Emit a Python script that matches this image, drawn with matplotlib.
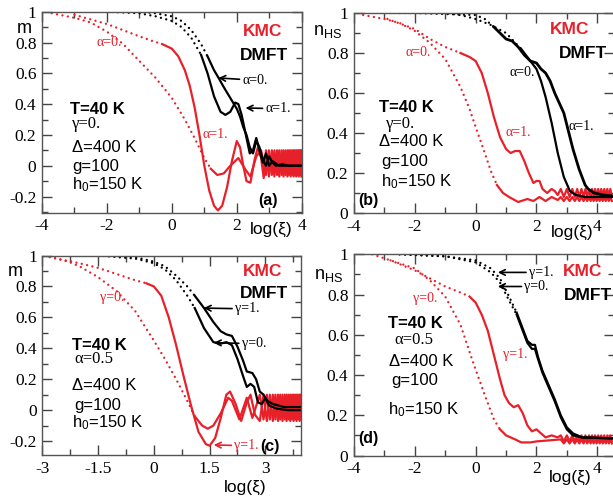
import matplotlib
matplotlib.use('Agg')
import matplotlib.pyplot as plt
from matplotlib.ticker import MultipleLocator

W, H = 613, 498
RED = '#e8202a'

plt.rcParams['font.family'] = 'Liberation Serif'
plt.rcParams['mathtext.fontset'] = 'custom'
plt.rcParams['mathtext.rm'] = 'Liberation Sans'
plt.rcParams['mathtext.it'] = 'Liberation Sans'

# ---------------- panel (a): m vs log(xi), alpha = 0 / 1 ----------------
ZIG_A_X = [2.9, 2.99, 3.08, 3.16, 3.24, 3.31, 3.38, 3.44, 3.5, 3.56, 3.61, 3.66,
           3.71, 3.75, 3.79, 3.83, 3.87, 3.91, 3.95, 3.99]
ZIG_HI_LO = [0.1, -0.07] * 10
ZIG_LO_HI = [-0.06, 0.1] * 10

a_kmc0_x = [-3.7, -3.0, -2.5, -2.0, -1.5, -1.0, -0.5, 0.0, 0.4, 0.7, 1.0, 1.2,
            1.4, 1.6, 1.8, 2.05, 2.25, 2.42, 2.6, 2.75] + ZIG_A_X
a_kmc0_y = [0.99, 0.96, 0.93, 0.87, 0.79, 0.68, 0.57, 0.44, 0.3, 0.18, 0.05, -0.02,
            -0.06, -0.05, 0.0, 0.05, -0.02, -0.07, 0.06, 0.1] + ZIG_LO_HI
a_kmc1_x = [-3.0, -2.5, -2.0, -1.5, -1.0, -0.6, -0.3, 0.0, 0.2, 0.4, 0.55, 0.7, 0.85,
            1.0, 1.15, 1.3, 1.42, 1.55, 1.7, 1.85, 2.0, 2.1, 2.2, 2.3, 2.42, 2.55,
            2.65, 2.75, 2.83] + ZIG_A_X
a_kmc1_y = [0.98, 0.95, 0.92, 0.88, 0.84, 0.81, 0.79, 0.76, 0.71, 0.62, 0.52, 0.38,
            0.2, 0.0, -0.16, -0.26, -0.29, -0.26, -0.14, 0.03, 0.16, 0.12, 0.0,
            -0.1, -0.11, 0.04, 0.12, 0.05, -0.08] + ZIG_HI_LO
a_dmft0_x = [-2.2, -1.0, -0.5, 0.0, 0.3, 0.6, 0.9, 1.1, 1.3, 1.44, 1.6, 1.8, 2.0,
             2.1, 2.2, 2.3, 2.4, 2.5, 2.6, 2.7, 2.8, 2.9, 3.0, 3.1, 3.2, 3.4, 3.6,
             3.8, 4.0]
a_dmft0_y = [1.0, 1.0, 0.99, 0.97, 0.94, 0.88, 0.79, 0.71, 0.62, 0.57, 0.51, 0.44,
             0.37, 0.32, 0.25, 0.2, 0.12, 0.08, 0.16, 0.12, 0.04, 0.0, 0.06, 0.02,
             0.0, 0.01, 0.0, 0.0, 0.0]
a_dmft1_x = [-2.0, -1.0, -0.5, 0.0, 0.3, 0.6, 0.9, 1.1, 1.3, 1.5, 1.65, 1.8, 1.95,
             2.05, 2.15, 2.3, 2.4, 2.5, 2.6, 2.7, 2.8, 2.9, 3.0, 3.1, 3.3, 3.6, 4.0]
a_dmft1_y = [1.0, 0.99, 0.97, 0.94, 0.9, 0.83, 0.72, 0.6, 0.45, 0.35, 0.33, 0.35,
             0.41, 0.4, 0.33, 0.18, 0.08, 0.1, 0.18, 0.1, 0.02, 0.08, 0.0, 0.03,
             0.0, 0.0, 0.0]

# ---------------- panel (b): n_HS vs log(xi), alpha = 0 / 1 ----------------
ZIG_B_X = [2.8, 2.9, 3.0, 3.09, 3.18, 3.26, 3.34, 3.41, 3.48, 3.55, 3.61, 3.67,
           3.73, 3.78, 3.83, 3.88, 3.93, 3.98, 4.03, 4.08, 4.13, 4.18, 4.23, 4.28,
           4.33, 4.38, 4.43, 4.48]
b_kmc0_x = [-3.7, -3.0, -2.5, -2.0, -1.5, -1.0, -0.5, -0.2, 0.0, 0.3, 0.5, 0.7,
            0.9, 1.1, 1.4, 1.7, 1.9, 2.1, 2.3, 2.5, 2.7] + ZIG_B_X
b_kmc0_y = [0.99, 0.97, 0.95, 0.91, 0.85, 0.77, 0.63, 0.52, 0.43, 0.3, 0.21, 0.14,
            0.1, 0.08, 0.055, 0.07, 0.06, 0.08, 0.06, 0.08, 0.065] + [0.08, 0.06] * 14
b_kmc1_x = [-2.9, -2.0, -1.5, -1.0, -0.5, -0.2, 0.0, 0.2, 0.4, 0.6, 0.8, 1.0, 1.15,
            1.3, 1.45, 1.6, 1.75, 1.9, 2.0, 2.1, 2.2, 2.35, 2.5, 2.6, 2.7] + ZIG_B_X
b_kmc1_y = [0.97, 0.92, 0.87, 0.83, 0.8, 0.78, 0.76, 0.7, 0.6, 0.48, 0.38, 0.32,
            0.3, 0.31, 0.31, 0.26, 0.2, 0.15, 0.16, 0.16, 0.12, 0.1, 0.12, 0.11,
            0.09] + [0.12, 0.08] * 14
b_dmft0_x = [-2.5, -1.0, -0.5, 0.0, 0.5, 1.0, 1.5, 2.0, 2.15, 2.3, 2.5, 2.7, 2.9,
             3.1, 3.3, 3.6, 4.0, 4.5]
b_dmft0_y = [1.0, 1.0, 0.99, 0.97, 0.94, 0.9, 0.82, 0.72, 0.66, 0.58, 0.45, 0.3,
             0.18, 0.11, 0.09, 0.08, 0.08, 0.08]
b_dmft1_x = [-2.0, 0.0, 0.3, 0.6, 0.8, 1.0, 1.2, 1.4, 1.6, 1.8, 2.0, 2.15, 2.3, 2.45,
             2.6, 2.75, 2.9, 3.0, 3.1, 3.2, 3.3, 3.4, 3.5, 3.6, 3.7, 3.9, 4.2, 4.5]
b_dmft1_y = [1.0, 0.99, 0.97, 0.93, 0.9, 0.87, 0.86, 0.83, 0.79, 0.76, 0.75, 0.72,
             0.7, 0.66, 0.6, 0.55, 0.5, 0.44, 0.38, 0.32, 0.27, 0.22, 0.18, 0.14,
             0.12, 0.1, 0.09, 0.085]

# ---------------- panel (c): m vs log(xi), gamma = 0 / 1 ----------------
ZIG_C_X = [2.85, 2.95, 3.04, 3.12, 3.2, 3.27, 3.34, 3.4, 3.46, 3.52, 3.57, 3.62,
           3.67, 3.72, 3.76, 3.8, 3.84, 3.88, 3.92, 3.96]
c_kmc0_x = [-2.8, -2.3, -2.0, -1.5, -1.0, -0.5, 0.0, 0.3, 0.6, 0.9, 1.1, 1.3, 1.45,
            1.6, 1.8, 2.0, 2.1, 2.3, 2.5, 2.65] + ZIG_C_X
c_kmc0_y = [0.99, 0.96, 0.93, 0.86, 0.77, 0.64, 0.45, 0.33, 0.2, 0.06, -0.04, -0.1,
            -0.12, -0.1, -0.02, 0.08, 0.06, -0.06, 0.08, -0.05] + [0.1, -0.06] * 10
c_kmc1_x = [-2.8, -2.0, -1.5, -1.0, -0.5, -0.2, 0.0, 0.2, 0.4, 0.6, 0.8, 1.0, 1.2,
            1.4, 1.5, 1.65, 1.8, 1.95, 2.05, 2.2, 2.35, 2.5, 2.6, 2.72] + ZIG_C_X
c_kmc1_y = [0.99, 0.95, 0.92, 0.88, 0.84, 0.82, 0.8, 0.74, 0.6, 0.42, 0.22, 0.03,
            -0.14, -0.22, -0.23, -0.18, -0.05, 0.1, 0.12, 0.04, -0.07, 0.05, 0.1,
            -0.03] + [-0.07, 0.1] * 10
c_dmft1_x = [-1.5, -0.5, 0.0, 0.3, 0.6, 0.9, 1.1, 1.35, 1.6, 1.8, 1.95, 2.1, 2.25,
             2.4, 2.5, 2.65, 2.75, 2.85, 2.95, 3.05, 3.2, 3.5, 3.95]
c_dmft1_y = [1.0, 0.99, 0.96, 0.93, 0.87, 0.8, 0.74, 0.66, 0.57, 0.51, 0.49, 0.48,
             0.41, 0.32, 0.25, 0.24, 0.2, 0.12, 0.1, 0.06, 0.04, 0.02, 0.02]
c_dmft0_x = [-1.5, -0.5, 0.0, 0.3, 0.6, 0.9, 1.1, 1.35, 1.6, 1.8, 1.95, 2.1, 2.25,
             2.4, 2.5, 2.6, 2.7, 2.8, 2.9, 3.0, 3.1, 3.3, 3.6, 3.95]
c_dmft0_y = [1.0, 0.98, 0.95, 0.91, 0.84, 0.74, 0.66, 0.53, 0.44, 0.43, 0.44, 0.42,
             0.33, 0.22, 0.15, 0.17, 0.15, 0.05, 0.04, 0.08, 0.03, 0.01, 0.0, 0.0]

# ---------------- panel (d): n_HS vs log(xi), gamma = 0 / 1 ----------------
d_kmc0_x = [-3.4, -2.8, -2.0, -1.5, -1.0, -0.5, -0.1, 0.3, 0.6, 0.8, 1.0, 1.3, 1.5,
            1.8, 2.0] + ZIG_B_X
d_kmc0_y = [1.0, 0.97, 0.93, 0.87, 0.79, 0.65, 0.47, 0.3, 0.18, 0.13, 0.1, 0.08,
            0.065, 0.065, 0.07] + [0.08, 0.06] * 14
d_kmc1_x = [-2.8, -2.0, -1.5, -1.0, -0.5, -0.2, 0.0, 0.2, 0.4, 0.6, 0.8, 0.95, 1.1,
            1.25, 1.4, 1.55, 1.7, 1.85, 2.0, 2.15, 2.3, 2.5, 2.7] + ZIG_B_X
d_kmc1_y = [0.97, 0.92, 0.88, 0.84, 0.81, 0.79, 0.76, 0.7, 0.62, 0.5, 0.38, 0.3,
            0.26, 0.24, 0.25, 0.21, 0.15, 0.12, 0.13, 0.11, 0.09, 0.1, 0.09] + [0.1, 0.07] * 14
d_dmft1_x = [-2.5, -1.0, 0.0, 0.5, 0.8, 1.1, 1.35, 1.55, 1.7, 1.85, 1.95, 2.05, 2.2,
             2.4, 2.6, 2.8, 3.0, 3.2, 3.5, 4.5]
d_dmft1_y = [1.0, 0.99, 0.97, 0.93, 0.88, 0.79, 0.71, 0.63, 0.57, 0.55, 0.55, 0.49,
             0.42, 0.35, 0.28, 0.2, 0.14, 0.11, 0.09, 0.085]
d_dmft0_x = [-2.5, -1.0, 0.0, 0.5, 0.8, 1.1, 1.35, 1.55, 1.7, 1.85, 1.95, 2.05, 2.2,
             2.4, 2.6, 2.8, 3.0, 3.2, 3.5, 4.5]
d_dmft0_y = [1.0, 0.99, 0.96, 0.91, 0.86, 0.77, 0.7, 0.62, 0.56, 0.53, 0.53, 0.48,
             0.41, 0.34, 0.27, 0.19, 0.13, 0.1, 0.09, 0.085]


def px_axes(l, t, r, b):
    return fig.add_axes([l / W, 1 - b / H, (r - l) / W, (b - t) / H])


def ftext(x, y, s, **kw):
    fig.text(x / W, 1 - y / H, s, **kw)


def curve(ax, x, y, color, solid_from, lw=1.6):
    i = next(k for k, v in enumerate(x) if v >= solid_from)
    ax.plot(x[:i + 1], y[:i + 1], color=color, lw=1.7, ls=(0, (0.01, 2.3)),
            dash_capstyle='round')
    ax.plot(x[i:], y[i:], color=color, lw=lw, ls='-')


def num_fmt(v, pos):
    return '%g' % round(v, 2)


def style(ax, xlim, ylim, xmin, xticks):
    ax.set_xlim(*xlim)
    ax.set_ylim(*ylim)
    ax.set_xticks(xticks)
    ax.xaxis.set_minor_locator(MultipleLocator(xmin))
    ax.yaxis.set_major_locator(MultipleLocator(0.2))
    ax.yaxis.set_minor_locator(MultipleLocator(0.1))
    ax.tick_params(which='both', direction='in', top=True, right=True, width=1.0,
                   color='#444444')
    ax.tick_params(which='major', length=7, labelsize=12.5, pad=4)
    ax.tick_params(which='minor', length=4)
    ax.xaxis.set_major_formatter(plt.FuncFormatter(num_fmt))
    ax.yaxis.set_major_formatter(plt.FuncFormatter(num_fmt))
    for sp in ax.spines.values():
        sp.set_linewidth(1.0)
        sp.set_color('#555555')


fig = plt.figure(figsize=(W / 100, H / 100), dpi=100)
SANS = 'Liberation Sans'
ARROW_K = dict(arrowstyle='->', lw=1.2, color='black', shrinkA=0, shrinkB=0)
ARROW_R = dict(arrowstyle='->', lw=1.2, color=RED, shrinkA=0, shrinkB=0)
ANN = 10

# ---- (a)
ax = px_axes(42, 11.7, 301.7, 212.7)
style(ax, (-4, 4), (-0.305, 1.0), 1, [-4, -2, 0, 2, 4])
curve(ax, a_kmc0_x, a_kmc0_y, RED, 1.2)
curve(ax, a_kmc1_x, a_kmc1_y, RED, -0.4)
curve(ax, a_dmft0_x, a_dmft0_y, 'black', 1.0)
curve(ax, a_dmft1_x, a_dmft1_y, 'black', 0.9)
ax.text(-2.31, 0.8, 'α=0.', color=RED, fontsize=ANN, va='center')
ax.text(0.94, 0.2, 'α=1.', color=RED, fontsize=ANN, va='center')
ax.annotate('α=0.', xy=(1.43, 0.57), xytext=(2.17, 0.555), fontsize=ANN,
            va='center', arrowprops=ARROW_K)
ax.annotate('α=1.', xy=(2.27, 0.375), xytext=(2.88, 0.37), fontsize=ANN,
            va='center', arrowprops=ARROW_K)
ftext(24, 33, 'm', family=SANS, fontsize=13, ha='center', va='baseline')
ftext(263, 32, 'KMC', family=SANS, fontsize=12.5, weight='bold', color=RED, ha='center', va='center')
ftext(264, 55, 'DMFT', family=SANS, fontsize=12.5, weight='bold', ha='center', va='center')
ftext(70, 110, 'T=40 K', family=SANS, fontsize=12, weight='bold', va='center')
ftext(72, 124, 'γ=0.', fontsize=12, va='center')
ftext(72, 147, 'Δ=400 K', family=SANS, fontsize=12, va='center')
ftext(72, 166, 'g=100', family=SANS, fontsize=12, va='center')
ftext(72, 185, r'h$_0$=150 K', family=SANS, fontsize=12, va='center')
ftext(268, 200, '(a)', family=SANS, fontsize=11.5, weight='bold', ha='center', va='center')
ftext(271, 229, 'log(ξ)', family=SANS, fontsize=12.5, ha='center', va='center')

# ---- (b)
ax = px_axes(354, 13, 614, 213)
style(ax, (-4, 4.55), (0, 1.0), 1, [-4, -2, 0, 2, 4])
curve(ax, b_kmc0_x, b_kmc0_y, RED, 0.7)
curve(ax, b_kmc1_x, b_kmc1_y, RED, -0.5)
curve(ax, b_dmft0_x, b_dmft0_y, 'black', 1.2)
curve(ax, b_dmft1_x, b_dmft1_y, 'black', 0.5, lw=2.0)
ax.text(-2.29, 0.8, 'α=0.', color=RED, fontsize=ANN, va='center')
ax.text(0.99, 0.4, 'α=1.', color=RED, fontsize=ANN, va='center')
ax.text(1.1, 0.705, 'α=0.', fontsize=ANN, va='center')
ax.text(3.05, 0.43, 'α=1.', fontsize=ANN, va='center')
ftext(328, 35, r'n$_{\mathrm{HS}}$', family=SANS, fontsize=13, ha='center', va='baseline')
ftext(570, 30, 'KMC', family=SANS, fontsize=12.5, weight='bold', color=RED, ha='center', va='center')
ftext(583, 53, 'DMFT', family=SANS, fontsize=12.5, weight='bold', ha='center', va='center')
ftext(379, 107, 'T=40 K', family=SANS, fontsize=12, weight='bold', va='center')
ftext(386, 124, 'γ=0.', fontsize=12, va='center')
ftext(379, 142, 'Δ=400 K', family=SANS, fontsize=12, va='center')
ftext(381, 161, 'g=100', family=SANS, fontsize=12, va='center')
ftext(381, 182, r'h$_0$=150 K', family=SANS, fontsize=12, va='center')
ftext(368, 200, '(b)', family=SANS, fontsize=11.5, weight='bold', ha='center', va='center')
ftext(572, 232, 'log(ξ)', family=SANS, fontsize=12.5, ha='center', va='center')

# ---- (c)
ax = px_axes(42.3, 255.5, 300.7, 455)
style(ax, (-3, 3.95), (-0.29, 1.0), 0.75, [-3, -1.5, 0, 1.5, 3])
curve(ax, c_kmc0_x, c_kmc0_y, RED, 1.0)
curve(ax, c_kmc1_x, c_kmc1_y, RED, -0.3)
curve(ax, c_dmft1_x, c_dmft1_y, 'black', 1.0)
curve(ax, c_dmft0_x, c_dmft0_y, 'black', 1.0)
ax.text(-1.44, 0.73, 'γ=0.', color=RED, fontsize=ANN, va='center')
ax.annotate('γ=1.', xy=(1.34, 0.66), xytext=(2.18, 0.655), fontsize=ANN,
            va='center', arrowprops=ARROW_K)
ax.annotate('γ=0.', xy=(1.61, 0.436), xytext=(2.36, 0.43), fontsize=ANN,
            va='center', arrowprops=ARROW_K)
ax.annotate('γ=1.', xy=(1.61, -0.225), xytext=(2.16, -0.23), fontsize=ANN,
            color=RED, va='center', arrowprops=ARROW_R)
ftext(15, 276, 'm', family=SANS, fontsize=13, ha='center', va='baseline')
ftext(263, 271, 'KMC', family=SANS, fontsize=12.5, weight='bold', color=RED, ha='center', va='center')
ftext(264, 293, 'DMFT', family=SANS, fontsize=12.5, weight='bold', ha='center', va='center')
ftext(72, 345, 'T=40 K', family=SANS, fontsize=12, weight='bold', va='center')
ftext(74, 359, 'α=0.5', fontsize=12, va='center')
ftext(72, 385, 'Δ=400 K', family=SANS, fontsize=12, va='center')
ftext(74, 405, 'g=100', family=SANS, fontsize=12, va='center')
ftext(72, 423, r'h$_0$=150 K', family=SANS, fontsize=12, va='center')
ftext(270, 446, '(c)', family=SANS, fontsize=11.5, weight='bold', ha='center', va='center')
ftext(245, 487, 'log(ξ)', family=SANS, fontsize=12.5, ha='center', va='center')

# ---- (d)
ax = px_axes(354, 254.3, 614, 455.5)
style(ax, (-4, 4.55), (0, 1.0), 1, [-4, -2, 0, 2, 4])
curve(ax, d_kmc0_x, d_kmc0_y, RED, 0.8)
curve(ax, d_kmc1_x, d_kmc1_y, RED, -0.3)
curve(ax, d_dmft1_x, d_dmft1_y, 'black', 1.2)
curve(ax, d_dmft0_x, d_dmft0_y, 'black', 1.2)
ax.text(-2.06, 0.78, 'γ=0.', color=RED, fontsize=ANN, va='center')
ax.text(0.9, 0.5, 'γ=1.', color=RED, fontsize=ANN, va='center')
ax.annotate('γ=1.', xy=(0.73, 0.91), xytext=(1.75, 0.91), fontsize=ANN,
            va='center', arrowprops=ARROW_K)
ax.annotate('γ=0.', xy=(0.73, 0.84), xytext=(1.6, 0.84), fontsize=ANN,
            va='center', arrowprops=ARROW_K)
ftext(329, 279, r'n$_{\mathrm{HS}}$', family=SANS, fontsize=13, ha='center', va='baseline')
ftext(583, 271, 'KMC', family=SANS, fontsize=12.5, weight='bold', color=RED, ha='center', va='center')
ftext(588, 296, 'DMFT', family=SANS, fontsize=12.5, weight='bold', ha='center', va='center')
ftext(388, 323, 'T=40 K', family=SANS, fontsize=12, weight='bold', va='center')
ftext(394, 340, 'α=0.5', fontsize=12, va='center')
ftext(389, 361, 'Δ=400 K', family=SANS, fontsize=12, va='center')
ftext(391, 381, 'g=100', family=SANS, fontsize=12, va='center')
ftext(388, 410, r'h$_0$=150 K', family=SANS, fontsize=12, va='center')
ftext(368, 438, '(d)', family=SANS, fontsize=11.5, weight='bold', ha='center', va='center')
ftext(570, 477, 'log(ξ)', family=SANS, fontsize=12.5, ha='center', va='center')

fig.savefig('out.png', dpi=100)
